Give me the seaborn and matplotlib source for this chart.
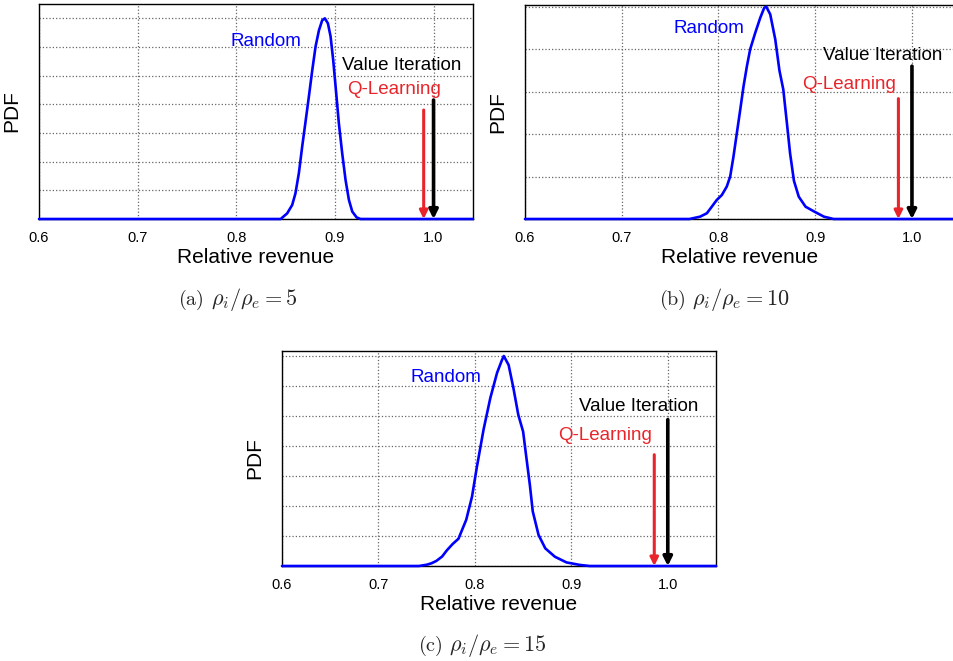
import matplotlib
matplotlib.use("Agg")
import matplotlib.pyplot as plt
import seaborn as sns
import pandas as pd

# ---------------- data ----------------
# (a) rho_i/rho_e = 5
rev_a = [0.600, 0.845, 0.8516, 0.8567, 0.860, 0.8635, 0.8668, 0.870, 0.8736, 0.877,
         0.8804, 0.8838, 0.8871, 0.8898, 0.8929, 0.8956, 0.8983, 0.9007, 0.904, 0.9074,
         0.9108, 0.9142, 0.9176, 0.922, 0.926, 1.040]
pdf_a = [0.000, 0.000, 0.028, 0.070, 0.128, 0.230, 0.360, 0.477, 0.610, 0.740,
         0.860, 0.940, 0.990, 1.000, 0.975, 0.910, 0.790, 0.660, 0.477, 0.327,
         0.194, 0.095, 0.037, 0.008, 0.000, 0.000]
# (b) rho_i/rho_e = 10
rev_b = [0.600, 0.770, 0.781, 0.788, 0.7931, 0.7983, 0.8035, 0.8086, 0.8121, 0.8155,
         0.819, 0.8225, 0.8259, 0.8294, 0.8328, 0.838, 0.8432, 0.8473, 0.8494, 0.8535,
         0.8587, 0.863, 0.867, 0.871, 0.874, 0.878, 0.883, 0.890, 0.899, 0.909, 0.919,
         1.044]
pdf_b = [0.000, 0.000, 0.011, 0.027, 0.058, 0.090, 0.113, 0.153, 0.200, 0.294,
         0.405, 0.515, 0.625, 0.720, 0.800, 0.877, 0.948, 0.995, 1.000, 0.964,
         0.846, 0.700, 0.610, 0.440, 0.310, 0.180, 0.105, 0.058, 0.035, 0.011, 0.000,
         0.000]
# (c) rho_i/rho_e = 15
rev_c = [0.600, 0.742, 0.750, 0.755, 0.760, 0.766, 0.771, 0.777, 0.783, 0.791, 0.797,
         0.802, 0.809, 0.816, 0.823, 0.828, 0.830, 0.835, 0.840, 0.845, 0.850, 0.853,
         0.857, 0.860, 0.866, 0.873, 0.883, 0.895, 0.909, 0.919, 1.050]
pdf_c = [0.000, 0.000, 0.006, 0.013, 0.024, 0.045, 0.075, 0.105, 0.130, 0.220, 0.330,
         0.470, 0.650, 0.800, 0.920, 0.980, 1.000, 0.957, 0.846, 0.720, 0.640, 0.530,
         0.386, 0.260, 0.148, 0.084, 0.044, 0.017, 0.005, 0.000, 0.000]

value_iteration_x = [1.000, 1.000, 1.000]
q_learning_x = [0.990, 0.986, 0.986]
value_iteration_top = [0.593, 0.720, 0.697]
q_learning_top = [0.543, 0.567, 0.530]
caption_tags = [r"$\mathrm{(a)}$", r"$\mathrm{(b)}$", r"$\mathrm{(c)}$"]
caption_math = [r"$\rho_i/\rho_e = 5$", r"$\rho_i/\rho_e = 10$", r"$\rho_i/\rho_e = 15$"]
xtick_vals = [0.6, 0.7, 0.8, 0.9, 1.0]
xtick_labels = ["0.6", "0.7", "0.8", "0.9", "1.0"]

# ---------------- style ----------------
sns.set_theme(style="white")
plt.rcParams['font.family'] = ['Liberation Sans', 'DejaVu Sans']
plt.rcParams['mathtext.fontset'] = 'cm'

W, H = 954, 661
fig = plt.figure(figsize=(W / 100, H / 100), dpi=100)


def axes_px(l, r, t, b):
    return fig.add_axes([l / W, 1 - b / H, (r - l) / W, (b - t) / H])


axA = axes_px(39, 473, 4, 219)
axB = axes_px(525, 955, 5, 219)
axC = axes_px(282, 716, 351, 566)

panels = [
    dict(ax=axA, x=rev_a, y=pdf_a, xmax=1.040, ymax=7.5 / 7, n=7,
         txt=dict(vi=(0.968, 0.7425), ql=(0.9597, 0.621), rnd=(0.8298, 0.864))),
    dict(ax=axB, x=rev_b, y=pdf_b, xmax=1.0445, ymax=5.04 / 5, n=5,
         txt=dict(vi=(0.970, 0.751), ql=(0.9347, 0.613), rnd=(0.7898, 0.874))),
    dict(ax=axC, x=rev_c, y=pdf_c, xmax=1.050, ymax=7.167 / 7, n=7,
         txt=dict(vi=(0.970, 0.737), ql=(0.935, 0.598), rnd=(0.770, 0.876))),
]

RED = '#e8252b'
BLUE = '#0000ff'

for i, p in enumerate(panels):
    ax = p['ax']
    df = pd.DataFrame({'rev': p['x'], 'pdf': p['y']})
    sns.lineplot(data=df, x='rev', y='pdf', ax=ax, color=BLUE, lw=1.9,
                 clip_on=False, zorder=4, estimator=None, sort=False)
    ax.set_xlim(0.6, p['xmax'])
    ax.set_ylim(0, p['ymax'])
    ax.set_xticks(xtick_vals)
    ax.set_xticklabels(xtick_labels)
    ax.set_yticks([k / p['n'] for k in range(p['n'] + 1)])
    ax.set_yticklabels([])
    ax.grid(True, linestyle=':', color='#666666', linewidth=0.9)
    for s in ax.spines.values():
        s.set_color('black')
        s.set_linewidth(1.0)
    ax.tick_params(axis='x', length=3.5, width=1, direction='out', colors='black',
                   pad=5, labelsize=10.5)
    ax.tick_params(axis='y', length=0)
    ax.set_xlabel("Relative revenue", fontsize=15, labelpad=2, color='black')
    ax.set_ylabel("PDF", fontsize=15, labelpad=9, color='black')

    # arrows
    ax.annotate('', xy=(value_iteration_x[i], 0), xytext=(value_iteration_x[i], value_iteration_top[i]),
                arrowprops=dict(arrowstyle='-|>', color='black', lw=2.6,
                                mutation_scale=13, shrinkA=0, shrinkB=0), zorder=5)
    ax.annotate('', xy=(q_learning_x[i], 0), xytext=(q_learning_x[i], q_learning_top[i]),
                arrowprops=dict(arrowstyle='-|>', color=RED, lw=2.2,
                                mutation_scale=12, shrinkA=0, shrinkB=0), zorder=5)
    t = p['txt']
    ax.text(*t['vi'], "Value Iteration", color='black', fontsize=13.5, ha='center', va='baseline')
    ax.text(*t['ql'], "Q-Learning", color=RED, fontsize=13.5, ha='center', va='baseline')
    ax.text(*t['rnd'], "Random", color=BLUE, fontsize=13.5, ha='center', va='baseline')

# captions: (tag right edge, math left edge, baseline) in pixels
cap_pos = [(204, 211, 305), (686, 692, 305), (443, 449, 651)]
for (xr, xl, yb), tag, math in zip(cap_pos, caption_tags, caption_math):
    fig.text(xr / W, 1 - yb / H, tag, fontsize=14.5, ha='right', va='baseline')
    fig.text(xl / W, 1 - yb / H, math, fontsize=16, ha='left', va='baseline')

fig.savefig("out.png", dpi=100)
